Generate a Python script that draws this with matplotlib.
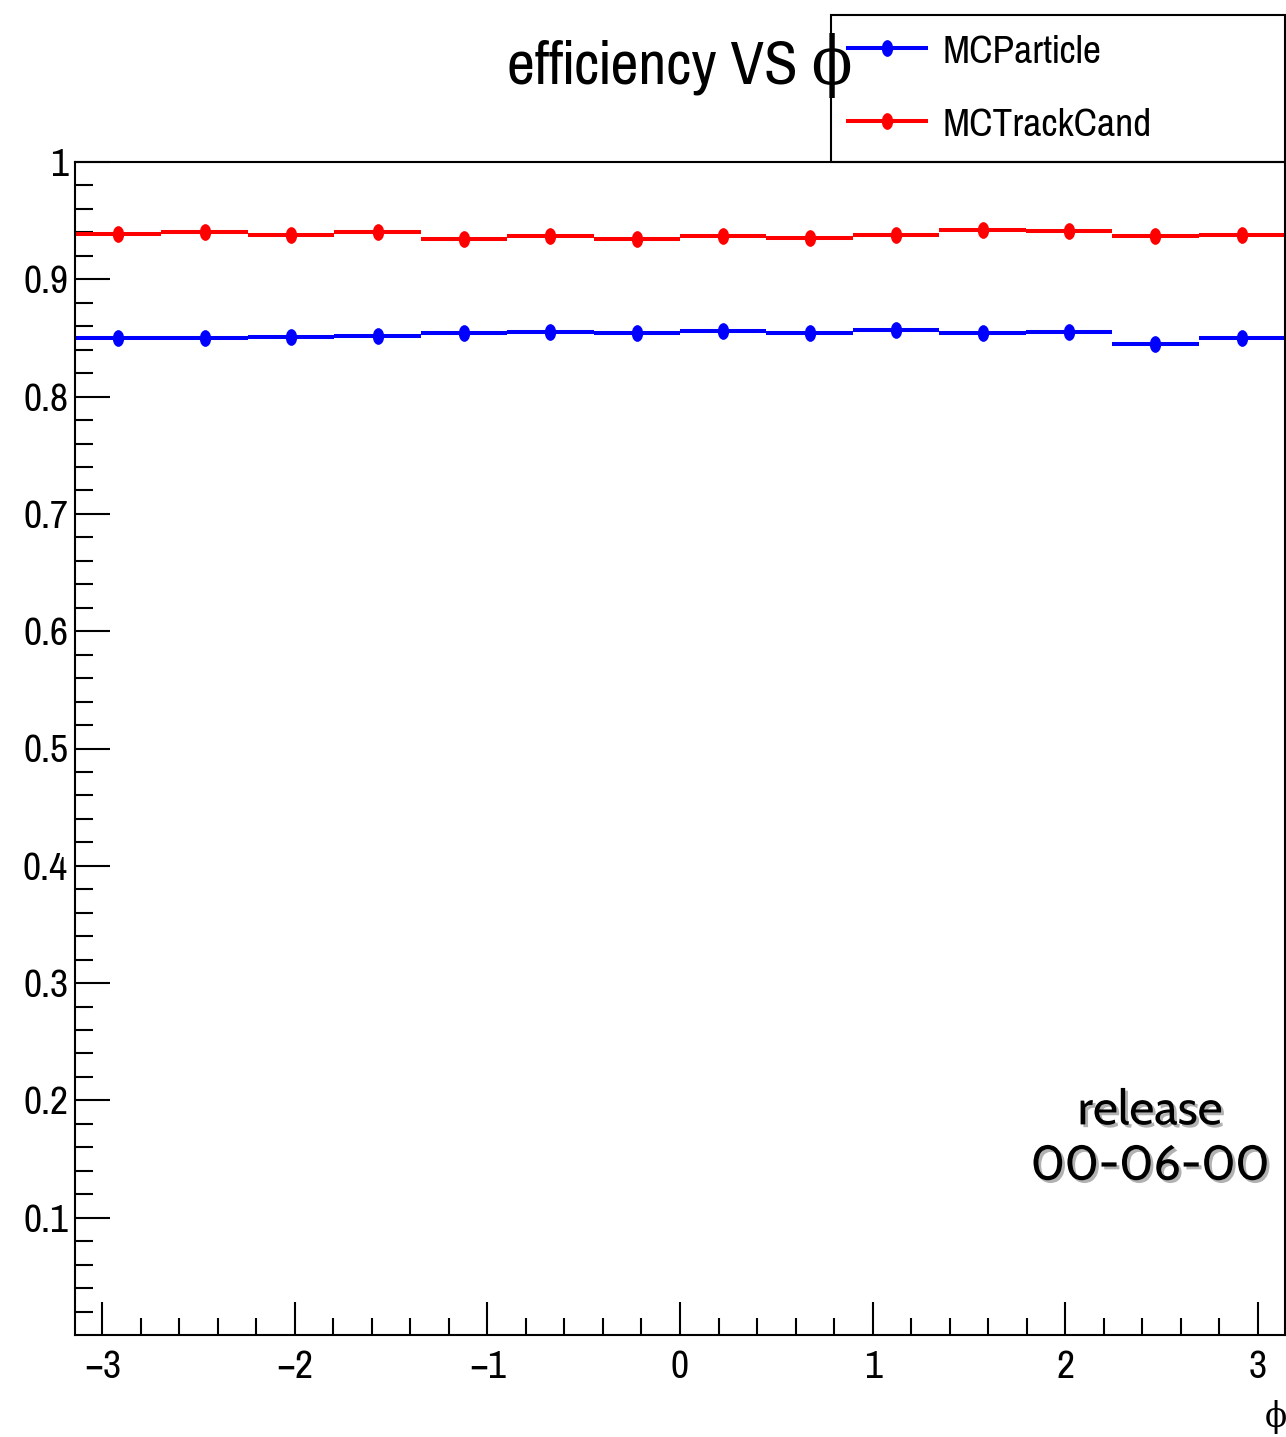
import numpy as np
import matplotlib
matplotlib.use("Agg")
import matplotlib.pyplot as plt
import matplotlib.patheffects as pe
from matplotlib.lines import Line2D
from matplotlib.patches import Rectangle
from matplotlib.path import Path
from matplotlib.transforms import Affine2D

plt.rcParams['font.family'] = ['Pragati Narrow', 'Archivo Narrow', 'DejaVu Sans']

# efficiency per phi bin (14 bins over [-pi, pi])
n_bins = 14
eff_mcparticle = [0.850, 0.850, 0.851, 0.852, 0.854, 0.855, 0.854,
                  0.856, 0.854, 0.857, 0.854, 0.855, 0.845, 0.850]
eff_mctrackcand = [0.939, 0.940, 0.938, 0.940, 0.934, 0.937, 0.934,
                   0.937, 0.935, 0.938, 0.942, 0.941, 0.937, 0.938]
series_labels = ["MCParticle", "MCTrackCand"]
series_colors = ["blue", "red"]
ytick_vals = [0.1, 0.2, 0.3, 0.4, 0.5, 0.6, 0.7, 0.8, 0.9, 1.0]
ytick_labels = ["0.1", "0.2", "0.3", "0.4", "0.5", "0.6", "0.7", "0.8", "0.9", "1"]
xtick_vals = [-3, -2, -1, 0, 1, 2, 3]
xtick_labels = ["\u22123", "\u22122", "\u22121", "0", "1", "2", "3"]

edges = np.linspace(-np.pi, np.pi, n_bins + 1)
centers = 0.5 * (edges[1:] + edges[:-1])
half_w = 0.5 * (edges[1] - edges[0])

W, H = 1286, 1437
fig = plt.figure(figsize=(W / 100, H / 100), dpi=100)
ax = fig.add_axes([75 / W, 102 / H, 1210 / W, 1173 / H])

# squashed circle marker, like the original
ell = Path.unit_circle().transformed(Affine2D().scale(0.65, 1.0))

handles = []
for vals, col, lab in zip([eff_mcparticle, eff_mctrackcand], series_colors, series_labels):
    ax.errorbar(centers, vals, xerr=half_w, yerr=0.002, fmt='none', ecolor=col,
                elinewidth=2.9, capsize=0)
    ax.plot(centers, vals, linestyle='none', marker=ell, ms=11, color=col)
    handles.append(Line2D([], [], color=col, lw=2.9, marker=ell, ms=11))

ax.set_xlim(-np.pi, np.pi)
ax.set_ylim(0, 1)
ax.set_xticks(xtick_vals)
ax.set_xticklabels(xtick_labels)
ax.set_xticks(np.arange(-3.0, 3.2, 0.2), minor=True)
ax.set_yticks(ytick_vals)
ax.set_yticklabels(ytick_labels)
ax.set_yticks(np.arange(0.02, 1.0, 0.02), minor=True)

ax.tick_params(axis='x', which='both', direction='in', top=False, labelsize=31, pad=11, width=1.5)
ax.tick_params(axis='x', which='major', length=24)
ax.tick_params(axis='x', which='minor', length=12)
ax.tick_params(axis='y', which='both', direction='in', right=False, labelsize=31, pad=5, width=1.5)
ax.tick_params(axis='y', which='major', length=25)
ax.tick_params(axis='y', which='minor', length=13)
for sp in ax.spines.values():
    sp.set_linewidth(1.5)

# axis title, bottom right under the tick labels
fig.text(1276 / W, 1 - 1417 / H, "\u03d5", ha='center', va='center', fontsize=26,
         family=['DejaVu Serif'], fontstretch='condensed')

fig.text(680 / W, 1 - 66 / H, "efficiency VS \u03d5", ha='center', va='center', fontsize=48,
         family=['Pragati Narrow', 'DejaVu Serif'], fontstretch='condensed')

# legend box
fig.patches.append(Rectangle((831 / W, 1 - 162 / H), 454 / W, 147 / H, transform=fig.transFigure,
                             fill=False, edgecolor='black', linewidth=1.5))
fig.legend(handles, series_labels, loc='center left', bbox_to_anchor=(848 / W, 1 - 88 / H),
           frameon=False, fontsize=31, handlelength=1.8, handletextpad=0.4,
           labelspacing=0.82, borderpad=0, borderaxespad=0, numpoints=1)

shadow = [pe.withSimplePatchShadow(offset=(2, -2), shadow_rgbFace='gray', alpha=0.6)]
fig.text(1150 / W, 1 - 1140 / H, "release\n00-06-00", ha='center', va='center', fontsize=35,
         family='Cabin', linespacing=1.2, path_effects=shadow)

fig.savefig("out.png", dpi=100)
